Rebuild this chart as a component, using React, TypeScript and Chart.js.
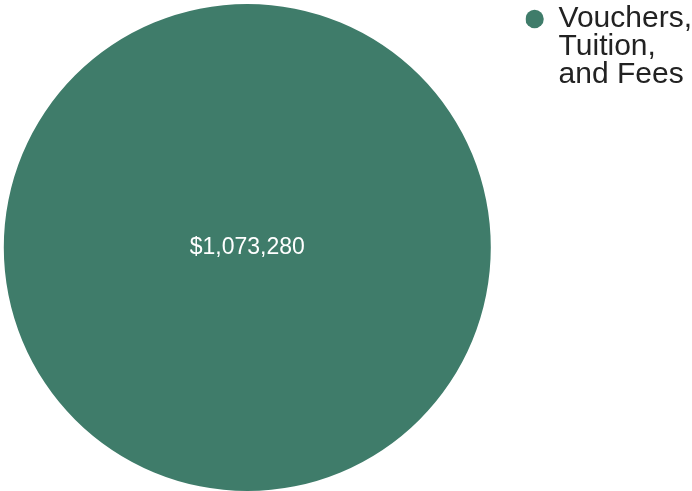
import React, { useEffect, useRef } from "react";
import { Chart, registerables } from "chart.js";

Chart.register(...registerables);

const categories: string[][] = [["Vouchers,", "Tuition,", "and Fees"]];
const amounts: number[] = [1073280];
const sliceColors: string[] = ["#3f7c6a"];

const FONT = "'Liberation Sans', Arial, Helvetica, sans-serif";

const centerLabelPlugin = {
  id: "centerLabel",
  afterDatasetsDraw(chart: any) {
    const ctx = chart.ctx;
    const meta = chart.getDatasetMeta(0);
    meta.data.forEach((arc: any, i: number) => {
      const v = chart.data.datasets[0].data[i] as number;
      ctx.save();
      ctx.fillStyle = "#ffffff";
      ctx.font = `23px ${FONT}`;
      ctx.textAlign = "center";
      ctx.textBaseline = "middle";
      ctx.fillText("$" + v.toLocaleString("en-US"), arc.x, arc.y);
      ctx.restore();
    });
  },
};

export default function App() {
  const ref = useRef<HTMLCanvasElement | null>(null);

  useEffect(() => {
    if (!ref.current) return;
    const chart = new Chart(ref.current, {
      type: "pie",
      data: {
        labels: categories as any,
        datasets: [
          {
            data: amounts,
            backgroundColor: sliceColors,
            borderWidth: 0,
          },
        ],
      },
      options: {
        animation: false,
        responsive: true,
        maintainAspectRatio: false,
        layout: { padding: { top: 4, left: 0, right: 0, bottom: 0 } },
        plugins: {
          tooltip: { enabled: false },
          legend: {
            position: "right",
            align: "start",
            labels: {
              usePointStyle: true,
              pointStyle: "circle",
              boxWidth: 18,
              boxHeight: 13,
              padding: 0,
              color: "#222222",
              font: { family: FONT, size: 30, lineHeight: 0.93 },
            },
          },
        },
      },
      plugins: [centerLabelPlugin],
    });
    return () => chart.destroy();
  }, []);

  return (
    <div
      style={{
        position: "fixed",
        left: -31,
        top: 0,
        width: 733,
        height: 491,
        background: "#ffffff",
      }}
    >
      <canvas ref={ref} />
    </div>
  );
}
